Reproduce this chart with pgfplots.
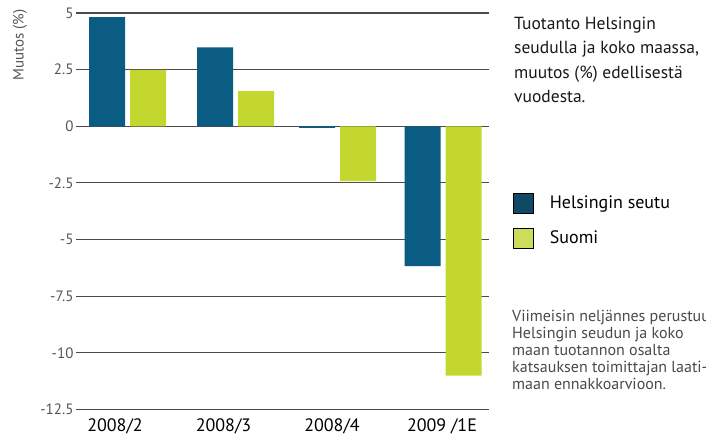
\documentclass[border=0pt]{standalone}
\usepackage{pgfplots}
\pgfplotsset{compat=1.18}
\usepackage{fontspec}
\setmainfont{PT Sans}
\definecolor{hdark}{HTML}{0A5C82}
\definecolor{hgreen}{HTML}{C3D72F}
\definecolor{ldark}{HTML}{0E4A66}
\definecolor{lgreen}{HTML}{CDDC5B}
\definecolor{gridc}{HTML}{4A4A4A}
\definecolor{tickc}{HTML}{555555}
\definecolor{notec}{HTML}{4A4A4A}
\begin{document}
\begin{tikzpicture}
\useasboundingbox (0bp,0bp) rectangle (706bp,-439bp);
\clip (0bp,0bp) rectangle (706bp,-439bp);
\begin{axis}[
  at={(76bp,-409.5bp)}, anchor=south west,
  scale only axis, width=412.5bp, height=396.5bp,
  xmin=76, xmax=488.5, ymin=-12.5, ymax=5,
  axis line style={draw=none},
  tick style={draw=none},
  ytick={-12.5,-10,-7.5,-5,-2.5,0,2.5,5},
  yticklabels={-12.5,-10,-7.5,-5,-2.5,0,2.5,5},
  yticklabel style={font=\fontsize{15bp}{18bp}\selectfont, text=tickc, anchor=east, xshift=1bp},
  xtick={115,223.5,332,442},
  xticklabels={2008/2,2008/3,2008/4,2009 /1E},
  xticklabel style={font=\fontsize{18bp}{21bp}\selectfont, text=black, anchor=base, yshift=-22bp},
  ymajorgrids,
  grid style={line width=1.1bp, draw=gridc},
  clip=false,
  legend style={at={(512.5bp-76bp,-192.5bp+409.5bp)}, anchor=north west, draw=none, fill=none,
    font=\fontsize{18bp}{21bp}\selectfont, row sep=15bp, inner sep=0pt, outer sep=0pt,
    legend cell align=left, /tikz/every even column/.append style={column sep=0bp}},
  legend image code/.code={\fill[#1] (0bp,-10bp) rectangle (20bp,10bp);},
]
\addplot[ybar, bar width=36bp, bar shift=-20.5bp, fill=hdark, draw=none, forget plot]
  coordinates {(127.5,4.82) (235.5,3.48) (337.5,-0.07) (443,-6.17)};
\addplot[ybar, bar width=36bp, bar shift=20.5bp, fill=hgreen, draw=none, forget plot]
  coordinates {(127.5,2.49) (235.5,1.55) (337.5,-2.42) (443,-11.0)};
\addlegendimage{fill=ldark}
\addlegendentry{\hspace{15bp}Helsingin seutu}
\addlegendimage{fill=lgreen}
\addlegendentry{\hspace{15bp}Suomi}
\end{axis}
\node[rotate=90, anchor=center, text=tickc, font=\fontsize{15bp}{18bp}\selectfont, inner sep=0pt] at (20bp,-45bp) {Muutos (\%)};
\node[anchor=base west, align=left, font=\fontsize{17.5bp}{24.5bp}\selectfont, text=black!90, inner sep=0pt] at (514bp,-102.5bp)
  {Tuotanto Helsingin\\seudulla ja koko maassa,\\muutos (\%) edellisestä\\vuodesta.};
\node[anchor=base west, align=left, font=\fontsize{16bp}{17bp}\selectfont, text=notec, inner sep=0pt] at (512bp,-389bp)
  {Viimeisin neljännes perustuu\\Helsingin seudun ja koko\\maan tuotannon osalta\\katsauksen toimittajan laati-\\maan ennakkoarvioon.};
\end{tikzpicture}
\end{document}
